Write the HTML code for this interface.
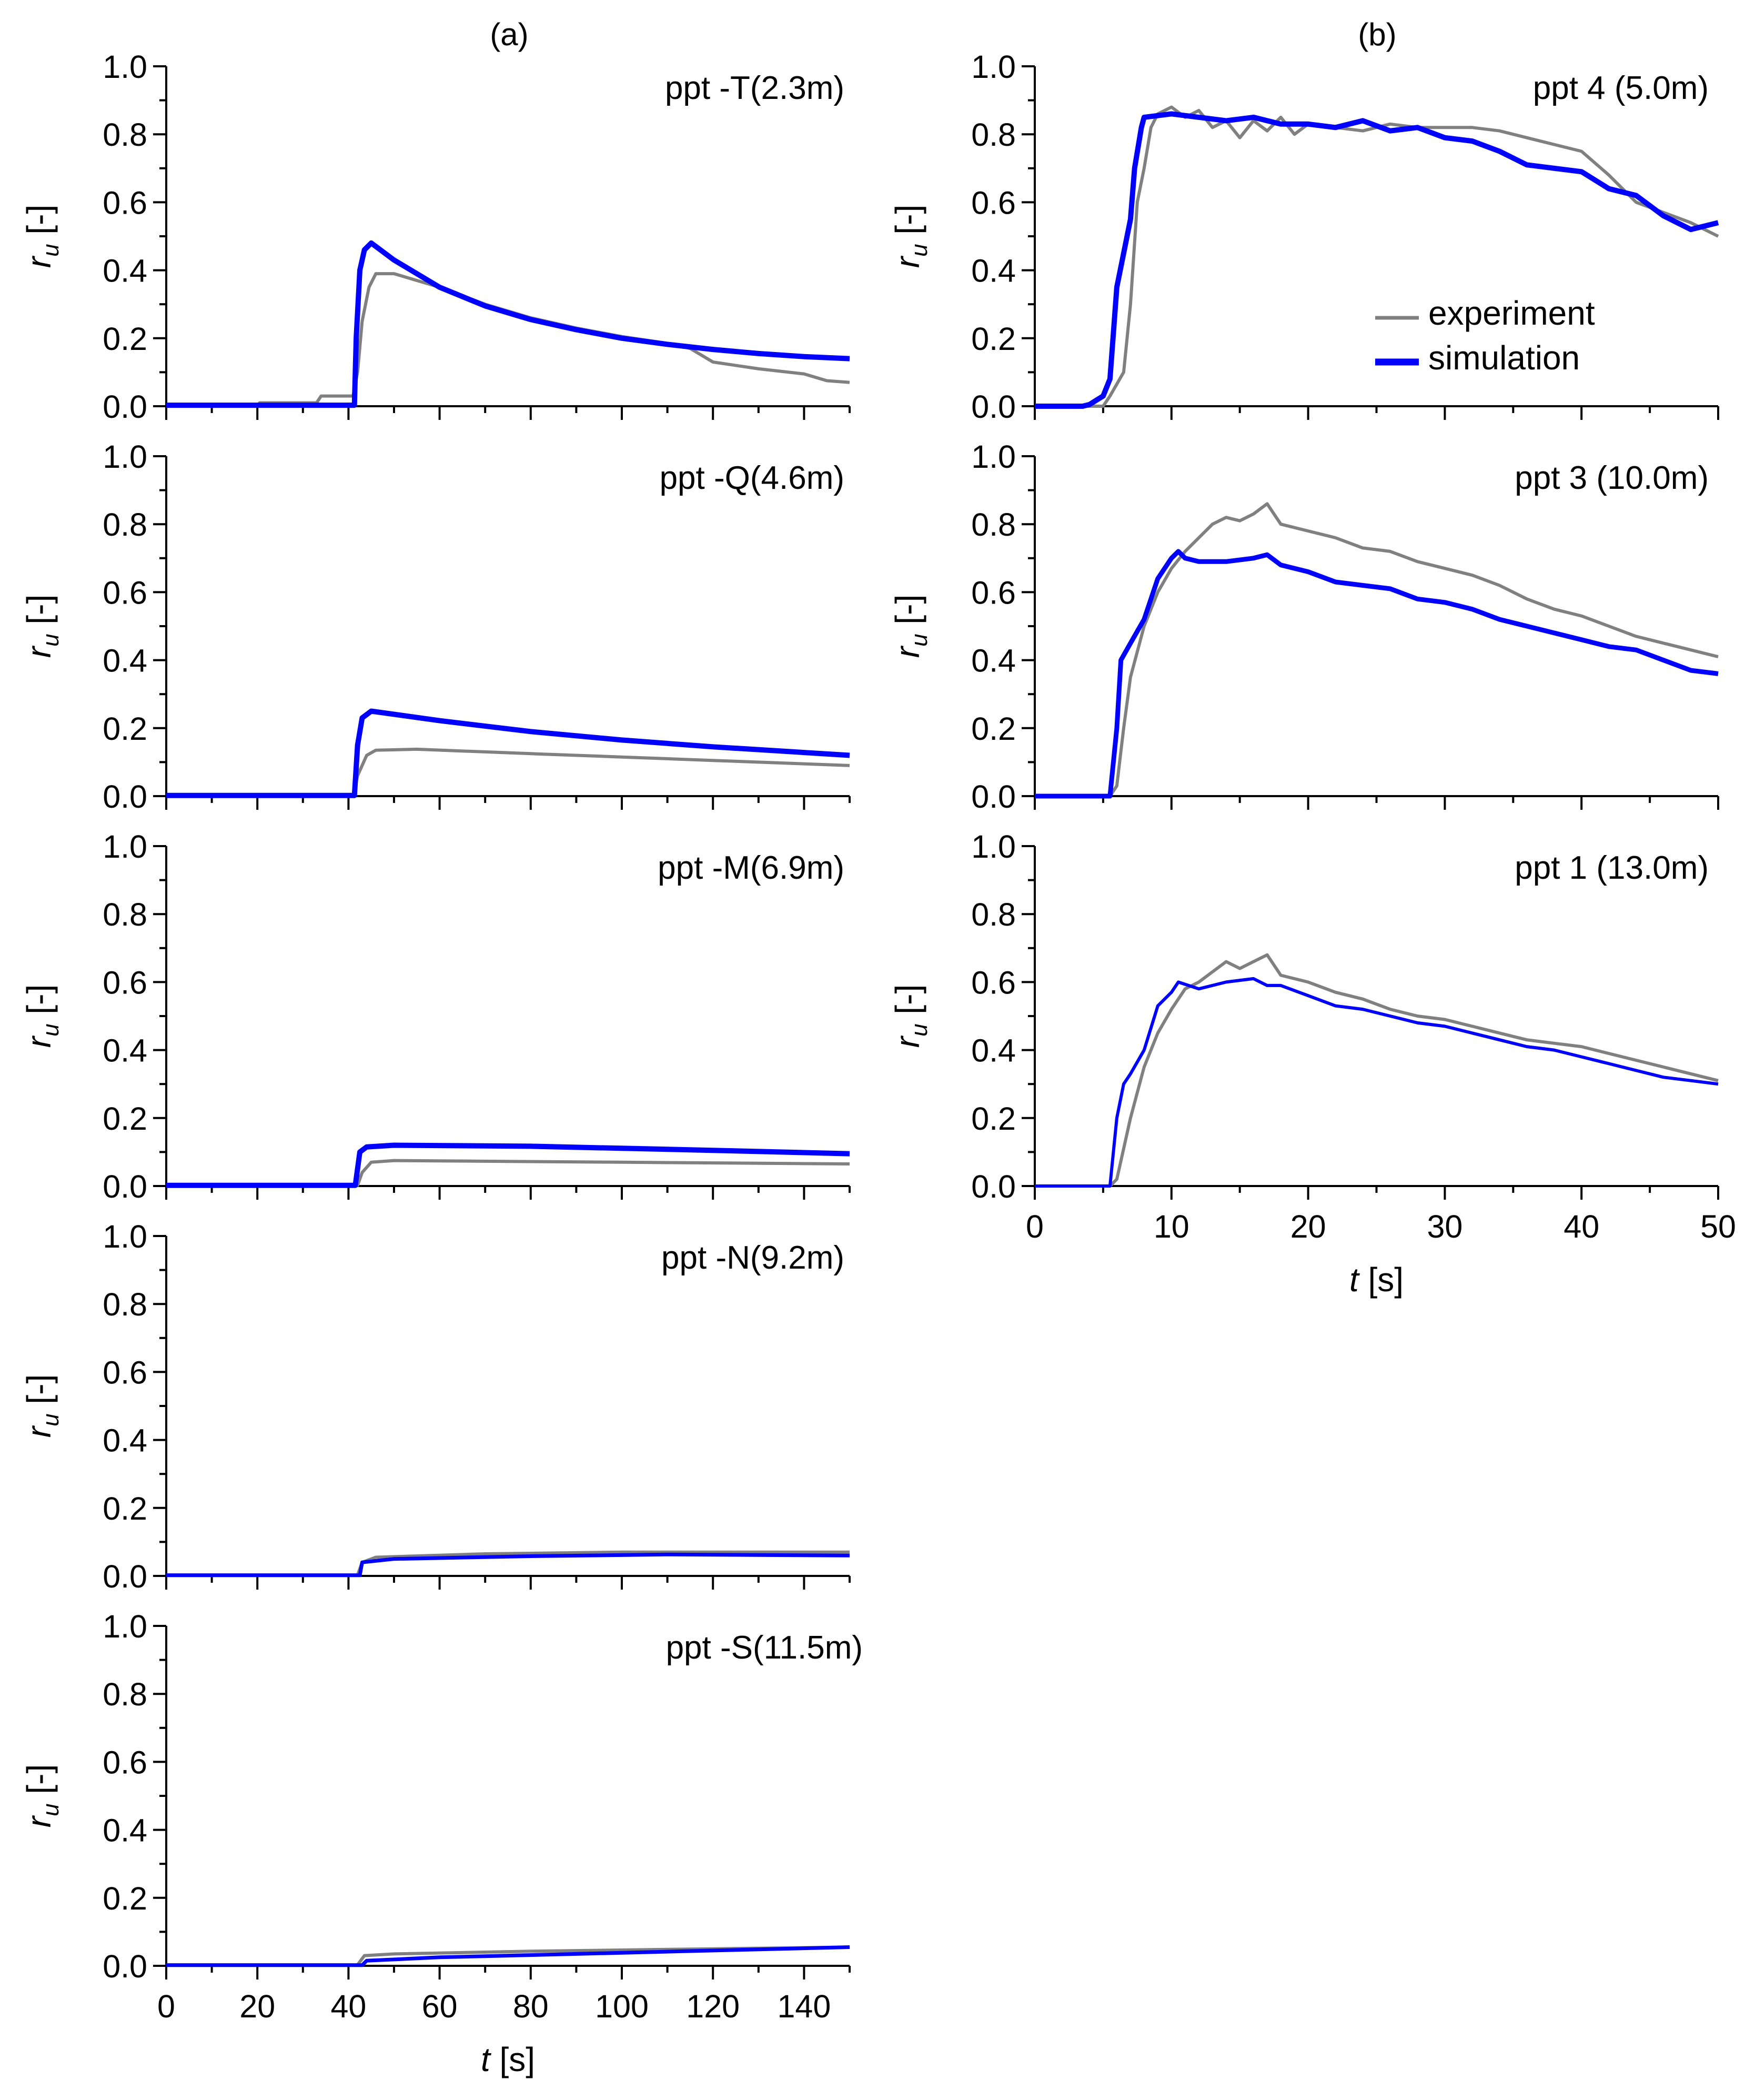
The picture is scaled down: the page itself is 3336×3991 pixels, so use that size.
<!DOCTYPE html>
<html><head><meta charset="utf-8"><style>
html,body{margin:0;padding:0;background:#fff;}
svg{display:block;font-family:"Liberation Sans",Arial,sans-serif;}
</style></head><body>
<svg id="chart" width="3336" height="3991" viewBox="0 0 3336 3991" xmlns="http://www.w3.org/2000/svg"></svg>
<script>
// ---- data (t [s], r_u) ----
const panelNames = ["ppt -T(2.3m)","ppt -Q(4.6m)","ppt -M(6.9m)","ppt -N(9.2m)","ppt -S(11.5m)","ppt 4 (5.0m)","ppt 3 (10.0m)","ppt 1 (13.0m)"];
const xTicksLeft = [0,20,40,60,80,100,120,140];
const xTicksRight = [0,10,20,30,40,50];
const yTicks = [0.0,0.2,0.4,0.6,0.8,1.0];
const yTickLabels = ["0.0","0.2","0.4","0.6","0.8","1.0"];

const expT = [[0,0],[20,0],[20.5,0.01],[33,0.01],[34,0.03],[41,0.03],[42,0.1],[43,0.25],[44.5,0.35],[46,0.39],[50,0.39],[60,0.35],[70,0.3],[80,0.26],[90,0.23],[100,0.205],[110,0.185],[115,0.17],[120,0.13],[130,0.11],[140,0.095],[145,0.075],[150,0.07]];
const simT = [[0,0.003],[41.3,0.003],[41.7,0.2],[42.5,0.4],[43.5,0.46],[45,0.48],[50,0.43],[60,0.35],[70,0.295],[80,0.255],[90,0.225],[100,0.2],[110,0.182],[120,0.167],[130,0.155],[140,0.146],[150,0.14]];
const expQ = [[0,0],[41,0],[42,0.06],[44,0.12],[46,0.135],[55,0.138],[80,0.125],[100,0.115],[120,0.105],[150,0.09]];
const simQ = [[0,0.002],[41.3,0.002],[42,0.15],[43,0.23],[45,0.25],[60,0.222],[80,0.19],[100,0.165],[120,0.145],[150,0.12]];
const expM = [[0,0.002],[42,0.002],[43,0.04],[45,0.07],[50,0.075],[100,0.07],[150,0.065]];
const simM = [[0,0.002],[41.5,0.002],[42.5,0.1],[44,0.115],[50,0.12],[80,0.117],[120,0.105],[150,0.095]];
const expN = [[0,0.003],[42,0.003],[43,0.04],[46,0.055],[70,0.065],[100,0.07],[150,0.07]];
const simN = [[0,0.002],[42.5,0.002],[43,0.04],[50,0.05],[80,0.058],[110,0.063],[150,0.06]];
const expS = [[0,0.003],[42,0.003],[43.5,0.03],[50,0.035],[80,0.043],[120,0.05],[150,0.055]];
const simS = [[0,0.002],[43,0.002],[44,0.015],[60,0.025],[90,0.035],[120,0.045],[150,0.055]];
const exp4 = [[0,0],[5,0],[5.5,0.03],[6.5,0.1],[7,0.3],[7.5,0.6],[8,0.7],[8.5,0.82],[9,0.86],[10,0.88],[11,0.85],[12,0.87],[13,0.82],[14,0.84],[15,0.79],[16,0.84],[17,0.81],[18,0.85],[19,0.8],[20,0.83],[22,0.82],[24,0.81],[26,0.83],[28,0.82],[30,0.82],[32,0.82],[34,0.81],[36,0.79],[38,0.77],[40,0.75],[42,0.68],[44,0.6],[46,0.57],[48,0.54],[50,0.5]];
const sim4 = [[0,0],[3.5,0],[4,0.005],[5,0.03],[5.5,0.08],[6,0.35],[6.5,0.45],[7,0.55],[7.3,0.7],[7.8,0.82],[8,0.85],[10,0.86],[12,0.85],[14,0.84],[16,0.85],[18,0.83],[20,0.83],[22,0.82],[24,0.84],[26,0.81],[28,0.82],[30,0.79],[32,0.78],[34,0.75],[36,0.71],[38,0.7],[40,0.69],[42,0.64],[44,0.62],[46,0.56],[48,0.52],[50,0.54]];
const exp3 = [[0,0],[5.5,0],[6,0.03],[6.5,0.2],[7,0.35],[8,0.5],[9,0.6],[10,0.67],[11,0.72],[12,0.76],[13,0.8],[14,0.82],[15,0.81],[16,0.83],[17,0.86],[18,0.8],[20,0.78],[22,0.76],[24,0.73],[26,0.72],[28,0.69],[30,0.67],[32,0.65],[34,0.62],[36,0.58],[38,0.55],[40,0.53],[42,0.5],[44,0.47],[46,0.45],[48,0.43],[50,0.41]];
const sim3 = [[0,0],[5.5,0],[6,0.2],[6.3,0.4],[7,0.45],[8,0.52],[9,0.64],[10,0.7],[10.5,0.72],[11,0.7],[12,0.69],[14,0.69],[16,0.7],[17,0.71],[18,0.68],[20,0.66],[22,0.63],[24,0.62],[26,0.61],[28,0.58],[30,0.57],[32,0.55],[34,0.52],[36,0.5],[38,0.48],[40,0.46],[42,0.44],[44,0.43],[46,0.4],[48,0.37],[50,0.36]];
const exp1 = [[0,0],[5.5,0],[6,0.02],[7,0.2],[8,0.35],[9,0.45],[10,0.52],[11,0.58],[12,0.6],[13,0.63],[14,0.66],[15,0.64],[16,0.66],[17,0.68],[18,0.62],[20,0.6],[22,0.57],[24,0.55],[26,0.52],[28,0.5],[30,0.49],[32,0.47],[34,0.45],[36,0.43],[38,0.42],[40,0.41],[42,0.39],[44,0.37],[46,0.35],[48,0.33],[50,0.31]];
const sim1 = [[0,0],[5.5,0],[6,0.2],[6.5,0.3],[7,0.33],[8,0.4],[9,0.53],[10,0.57],[10.5,0.6],[12,0.58],[14,0.6],[16,0.61],[17,0.59],[18,0.59],[20,0.56],[22,0.53],[24,0.52],[26,0.5],[28,0.48],[30,0.47],[32,0.45],[34,0.43],[36,0.41],[38,0.4],[40,0.38],[42,0.36],[44,0.34],[46,0.32],[48,0.31],[50,0.3]];

const NS="http://www.w3.org/2000/svg";
const svg=document.getElementById('chart');
function mk(tag,attrs,parent,text){const e=document.createElementNS(NS,tag);for(const k in attrs)e.setAttribute(k,attrs[k]);if(text!==undefined)e.textContent=text;(parent||svg).appendChild(e);return e;}

const tops=[126,867,1608,2349,3090], H=646;
const panels=[
 {col:0,row:0,exp:expT,sim:simT,sw:10},
 {col:0,row:1,exp:expQ,sim:simQ,sw:10},
 {col:0,row:2,exp:expM,sim:simM,sw:10},
 {col:0,row:3,exp:expN,sim:simN,sw:7},
 {col:0,row:4,exp:expS,sim:simS,sw:7},
 {col:1,row:0,exp:exp4,sim:sim4,sw:10},
 {col:1,row:1,exp:exp3,sim:sim3,sw:9},
 {col:1,row:2,exp:exp1,sim:sim1,sw:6},
];
panels.forEach((p,i)=>{
  const x0=p.col?1967:316, x1=p.col?3266:1615, xmax=p.col?50:150;
  const y0=tops[p.row], yb=y0+H;
  const sx=t=>x0+t/xmax*(x1-x0), sy=v=>yb-v*H;
  const g=mk('g',{});
  
  
  const ax=mk('path',{d:`M${x0},${y0} V${yb} H${x1}`,stroke:'#000','stroke-width':4,fill:'none'},g);
  
  for(let k=0;k<=10;k++){const y=sy(k/10);mk('line',{x1:x0-(k%2?13:25),x2:x0,y1:y,y2:y,stroke:'#000','stroke-width':4},g);}
  yTicks.forEach((v,k)=>{const t=mk('text',{x:x0-36,y:sy(v)+22,'text-anchor':'end','font-size':61},g,yTickLabels[k]);
    });
  const xt=p.col?xTicksRight:xTicksLeft, step=p.col?5:10;
  for(let t=0;t<=xmax+0.001;t+=step){const x=sx(t);
    mk('line',{x1:x,x2:x,y1:yb,y2:yb+(xt.includes(t)?26:13),stroke:'#000','stroke-width':4},g);}
  const bottom=(p.col===0&&p.row===4)||(p.col===1&&p.row===2);
  if(bottom){xt.forEach(t=>{const e=mk('text',{x:sx(t),y:yb+98,'text-anchor':'middle','font-size':61},g,String(t));
    });
    const xl=mk('text',{x:(x0+x1)/2,y:yb+200,'text-anchor':'middle','font-size':64},g);
    
    mk('tspan',{'font-style':'italic'},xl,'t');mk('tspan',{},xl,' [s]');}
  const yl=mk('text',{transform:`translate(${x0-220},${y0+H/2}) rotate(-90)`,'text-anchor':'middle','font-size':64},g);
  
  mk('tspan',{'font-style':'italic'},yl,'r');mk('tspan',{'font-style':'italic','font-size':44,dy:15},yl,'u');mk('tspan',{dy:-15},yl,' [-]');
  const path=d=>d.map((q,j)=>(j?'L':'M')+sx(q[0]).toFixed(1)+','+sy(q[1]).toFixed(1)).join(' ');
  const e=mk('path',{d:path(p.exp),stroke:'#808080','stroke-width':6,fill:'none','stroke-linejoin':'round'},g);
  
  const s=mk('path',{d:path(p.sim),stroke:'#0000ff','stroke-width':p.sw,fill:'none','stroke-linejoin':'round'},g);
  
  const lb=mk('text',{x:p.col?3248:(p.row===4?1640:1605),y:y0+62,'text-anchor':'end','font-size':62},g,panelNames[i]);
  
});
const lg=mk('g',{});


mk('line',{x1:2614,x2:2697,y1:604,y2:604,stroke:'#808080','stroke-width':7},lg);
mk('line',{x1:2614,x2:2697,y1:688,y2:688,stroke:'#0000ff','stroke-width':13},lg);
const le1=mk('text',{x:2715,y:617,'font-size':64},lg,'experiment');

const le2=mk('text',{x:2715,y:702,'font-size':64},lg,'simulation');

const ta=mk('text',{x:968,y:86,'text-anchor':'middle','font-size':60},svg,'(a)');

const tb=mk('text',{x:2618,y:86,'text-anchor':'middle','font-size':60},svg,'(b)');

</script>
</body></html>
